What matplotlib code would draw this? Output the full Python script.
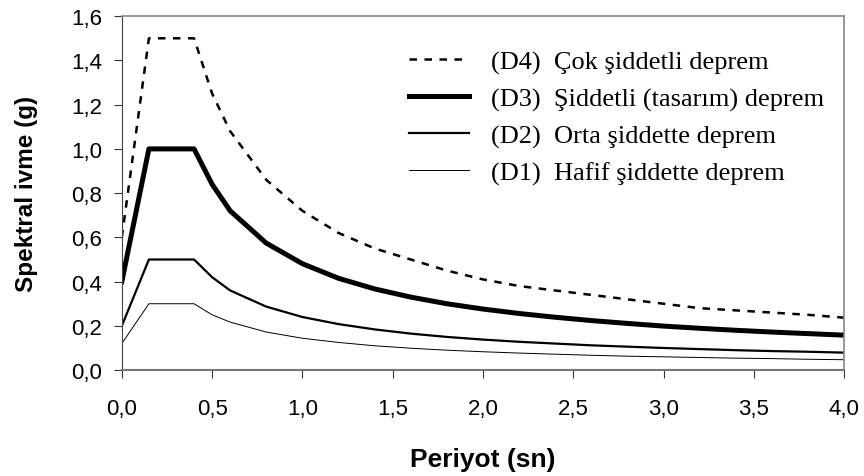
import matplotlib.pyplot as plt

# Periyot (sn)
T = [0.0, 0.15, 0.4, 0.5, 0.6, 0.8, 1.0, 1.2, 1.4, 1.6, 1.8, 2.0,
     2.2, 2.4, 2.6, 2.8, 3.0, 3.2, 3.4, 3.6, 3.8, 4.0]

d4 = [0.60, 1.50, 1.50, 1.25, 1.08, 0.86, 0.72, 0.62, 0.55, 0.50, 0.45, 0.41,
      0.38, 0.36, 0.34, 0.32, 0.30, 0.28, 0.27, 0.26, 0.25, 0.237]
d3 = [0.40, 1.00, 1.00, 0.84, 0.72, 0.574, 0.481, 0.415, 0.367, 0.330, 0.300, 0.276,
      0.256, 0.239, 0.224, 0.211, 0.199, 0.189, 0.180, 0.172, 0.165, 0.158]
d2 = [0.20, 0.50, 0.50, 0.42, 0.36, 0.287, 0.24, 0.208, 0.184, 0.165, 0.15, 0.138,
      0.128, 0.12, 0.112, 0.106, 0.10, 0.095, 0.09, 0.086, 0.083, 0.079]
d1 = [0.12, 0.30, 0.30, 0.25, 0.217, 0.172, 0.144, 0.125, 0.11, 0.099, 0.09, 0.083,
      0.077, 0.072, 0.067, 0.063, 0.06, 0.057, 0.054, 0.052, 0.049, 0.047]

labels = ["(D4)  Çok şiddetli deprem",
          "(D3)  Şiddetli (tasarım) deprem",
          "(D2)  Orta şiddette deprem",
          "(D1)  Hafif şiddette deprem"]

fig = plt.figure(figsize=(8.64, 4.77), dpi=100)
ax = fig.add_axes([0.141, 0.222, 0.836, 0.742])

ax.plot(T, d4, color="black", linewidth=1.8, linestyle=(0, (3, 3)), label=labels[0])
ax.plot(T, d3, color="black", linewidth=3.6, label=labels[1])
ax.plot(T, d2, color="black", linewidth=1.6, label=labels[2])
ax.plot(T, d1, color="black", linewidth=0.7, label=labels[3])

ax.set_xlim(0, 4.0)
ax.set_ylim(0, 1.6)
ax.set_xticks([0, 0.5, 1.0, 1.5, 2.0, 2.5, 3.0, 3.5, 4.0])
ax.set_yticks([0, 0.2, 0.4, 0.6, 0.8, 1.0, 1.2, 1.4, 1.6])
ax.set_xticklabels(["0,0", "0,5", "1,0", "1,5", "2,0", "2,5", "3,0", "3,5", "4,0"])
ax.set_yticklabels(["0,0", "0,2", "0,4", "0,6", "0,8", "1,0", "1,2", "1,4", "1,6"])

for lab in ax.get_xticklabels() + ax.get_yticklabels():
    lab.set_fontfamily("Liberation Sans")
    lab.set_fontsize(16)
ax.tick_params(axis="x", length=6, pad=14, color="#333333")
ax.tick_params(axis="y", length=6, pad=8, color="#333333")

ax.spines["left"].set_color("#444444")
ax.spines["bottom"].set_color("#777777")
ax.spines["bottom"].set_linewidth(1.5)
ax.spines["top"].set_color("#888888")
ax.spines["right"].set_color("#888888")
ax.spines["top"].set_linewidth(1.2)
ax.spines["right"].set_linewidth(1.2)

ax.set_xlabel("Periyot (sn)", fontfamily="Liberation Sans", fontsize=19,
              fontweight="bold", labelpad=20)
ax.set_ylabel("Spektral ivme (g)", fontfamily="Liberation Sans", fontsize=17.5,
              fontweight="bold", labelpad=24)

leg = ax.legend(loc="upper left", bbox_to_anchor=(0.398, 0.905), frameon=False,
                prop={"family": "Liberation Serif", "size": 19},
                handlelength=2.25, handletextpad=0.85, labelspacing=0.5,
                borderpad=0, borderaxespad=0)

fig.savefig("out.png", dpi=100)
